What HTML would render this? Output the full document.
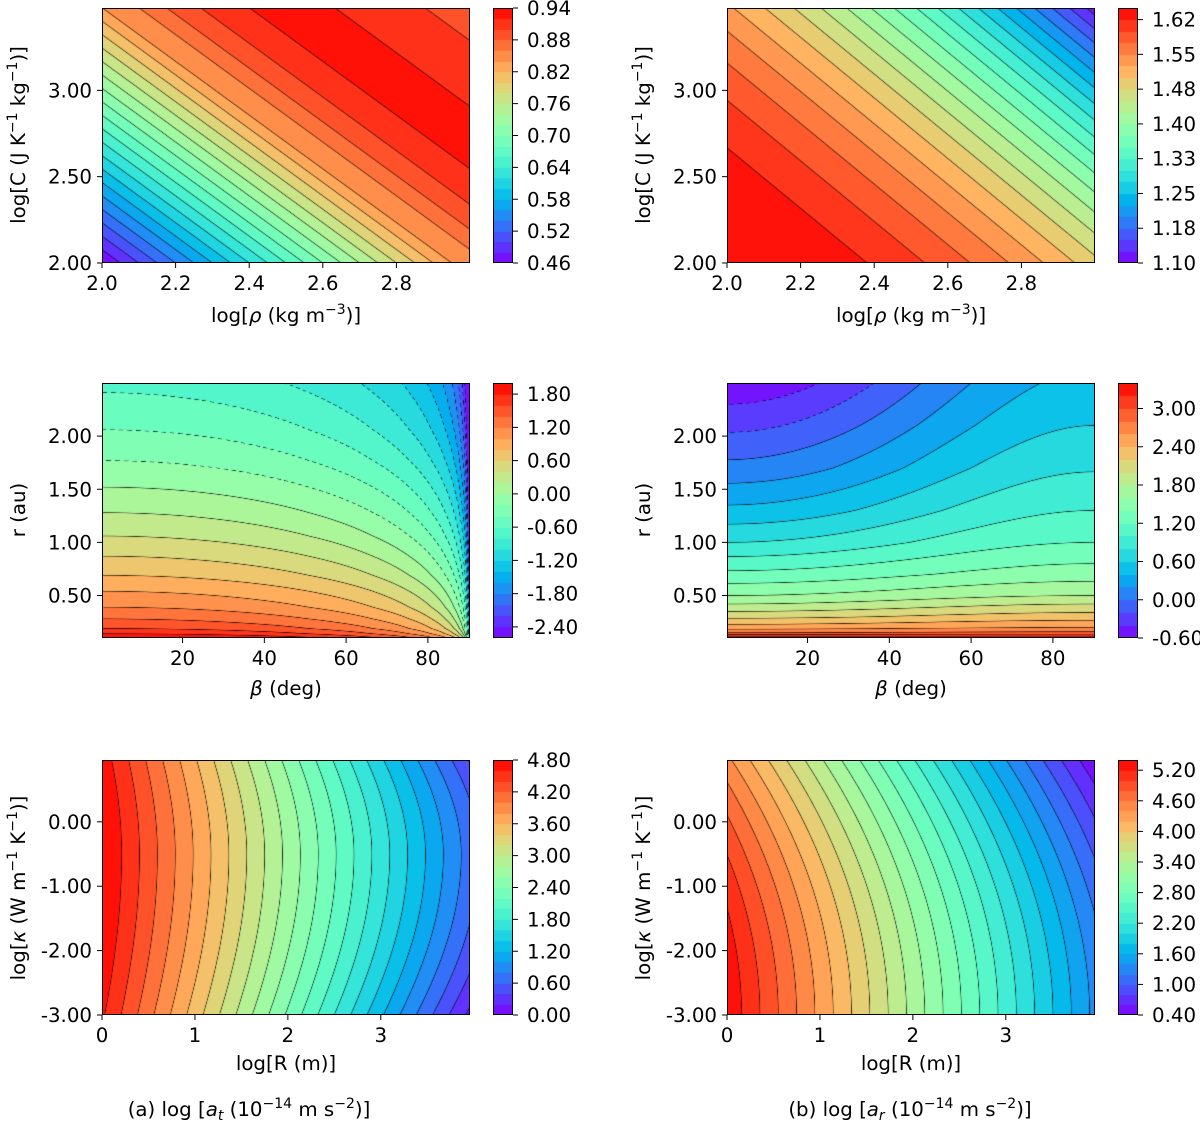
<!DOCTYPE html>
<html><head><meta charset="utf-8">
<style>
body{margin:0;background:#fff}
#root{position:relative;width:1200px;height:1123px;overflow:hidden;background:#fff}
canvas{position:absolute}
svg{position:absolute;left:0;top:0}
text{font-family:"DejaVu Sans","Liberation Sans",sans-serif;fill:#000}
</style></head>
<body>
<div id="root">
<svg id="svg" width="1200" height="1123"></svg>
</div>
<script>
// ---- data arrays ----
const A1_S=[0,0.38,0.42,0.45,0.487,0.54,0.587,0.633,0.78];
const A1_Z=[0.46,0.84,0.86,0.88,0.90,0.92,0.932,0.92,0.89];
const A1_COEF=[0.4,0.257];
const B1_COEF=[1,0.57];
const B1_PARAM=[1.652,0.54,1.9];
const A2_R=[0.1,0.14,0.19,0.28,0.39,0.54,0.69,0.87,1.06,1.28,1.52,1.77,2.06,2.41,2.5];
const A2_Z=[2.05,1.8,1.6,1.4,1.2,1.0,0.8,0.6,0.4,0.2,0.0,-0.2,-0.4,-0.6,-0.65];
const B2_R=[0.1,0.15,0.2,0.3,0.4,0.5,0.7,1.0,1.3,1.7,2.1,2.5];
const B2_LEFT=[3.4,2.8,2.5,2.15,1.85,1.6,1.25,0.8,0.45,0.06,-0.25,-0.55];
const B2_RIGHT=[3.4,2.85,2.6,2.3,2.05,1.8,1.5,1.2,1.0,0.78,0.6,0.45];
const A3_PARAM=[4.82,1.04,-0.5,0.05,0.03,2.0];
const B3_PARAM=[5.36,1.015,-3,0.058];
const TICKS_X1=[2.0,2.2,2.4,2.6,2.8];
const TICKS_Y1=[2.0,2.5,3.0];
const TICKS_X2=[20,40,60,80];
const TICKS_Y2=[0.5,1.0,1.5,2.0];
const TICKS_X3=[0,1,2,3];
const TICKS_Y3=[0,-1,-2,-3];
const CB_A1=[0.46,0.52,0.58,0.64,0.70,0.76,0.82,0.88,0.94];
const CB_B1=[1.10,1.175,1.25,1.325,1.40,1.475,1.55,1.625];
const CB_B1_LABELS=["1.10","1.18","1.25","1.33","1.40","1.48","1.55","1.62"];
const CB_A2=[-2.4,-1.8,-1.2,-0.6,0,0.6,1.2,1.8];
const CB_B2=[-0.6,0,0.6,1.2,1.8,2.4,3.0];
const CB_A3=[0,0.6,1.2,1.8,2.4,3.0,3.6,4.2,4.8];
const CB_B3=[0.4,1.0,1.6,2.2,2.8,3.4,4.0,4.6,5.2];

const FS=19.8;
function interp(xs,ys,x){
  if(x<=xs[0])return ys[0];
  for(let i=1;i<xs.length;i++){ if(x<=xs[i]){const t=(x-xs[i-1])/(xs[i]-xs[i-1]);return ys[i-1]+t*(ys[i]-ys[i-1]);} }
  return ys[ys.length-1];
}
const D2R=Math.PI/180;
const fA1=(x,y)=>interp(A1_S,A1_Z,A1_COEF[0]*(x-2)+A1_COEF[1]*(y-2));
const fB1=(x,y)=>{const smax=B1_COEF[0]*1+B1_COEF[1]*1.477;const s=(B1_COEF[0]*(x-2)+B1_COEF[1]*(y-2))/smax;return B1_PARAM[0]-B1_PARAM[1]*Math.pow(Math.max(s,0),B1_PARAM[2]);};
const fA2=(b,r)=>interp(A2_R,A2_Z,r)+Math.log10(Math.max(Math.cos(Math.min(b,90)*D2R),0.0004));
const fB2=(b,r)=>{const w=Math.pow(Math.sin(Math.min(b,90)*D2R),2);return (1-w)*interp(B2_R,B2_LEFT,r)+w*interp(B2_R,B2_RIGHT,r);};
const fA3=(x,y)=>{const d=y-A3_PARAM[2];const c=d>0?A3_PARAM[3]:A3_PARAM[4];return A3_PARAM[0]-A3_PARAM[1]*x-c*d*d*(1+A3_PARAM[5]*x/4);};
const fB3=(x,y)=>{const d=y-B3_PARAM[2];return B3_PARAM[0]-B3_PARAM[1]*x-B3_PARAM[3]*d*d;};

function rainbow(t){t=Math.max(0,Math.min(1,t));return [Math.min(1,Math.abs(2*t-0.5))*255,Math.sin(Math.PI*t)*255,Math.cos(Math.PI*t/2)*255];}

const panels=[
 {id:'a1',L:102,T:8,f:fA1,xd:[2,3],yd:[2,3.477],lmin:0.46,step:0.02,n:24,tx:TICKS_X1,ty:TICKS_Y1,fx:v=>v.toFixed(1),fy:v=>v.toFixed(2),cb:CB_A1,cbl:null,dash:0},
 {id:'b1',L:727,T:8,f:fB1,xd:[2,3],yd:[2,3.477],lmin:1.10,step:0.025,n:22,tx:TICKS_X1,ty:TICKS_Y1,fx:v=>v.toFixed(1),fy:v=>v.toFixed(2),cb:CB_B1,cbl:CB_B1_LABELS,dash:0},
 {id:'a2',L:102,T:383,f:fA2,xd:[0.3,90.3],yd:[0.1,2.5],lmin:-2.6,step:0.2,n:23,tx:TICKS_X2,ty:TICKS_Y2,fx:v=>String(v),fy:v=>v.toFixed(2),cb:CB_A2,cbl:null,dash:1},
 {id:'b2',L:727,T:383,f:fB2,xd:[0.3,90.3],yd:[0.1,2.5],lmin:-0.6,step:0.2,n:20,tx:TICKS_X2,ty:TICKS_Y2,fx:v=>String(v),fy:v=>v.toFixed(2),cb:CB_B2,cbl:null,dash:-1},
 {id:'a3',L:102,T:760,f:fA3,xd:[0,3.96],yd:[-3,0.96],lmin:0,step:0.2,n:24,tx:TICKS_X3,ty:TICKS_Y3,fx:v=>String(v),fy:v=>v.toFixed(2),cb:CB_A3,cbl:null,dash:0},
 {id:'b3',L:727,T:760,f:fB3,xd:[0,3.96],yd:[-3,0.96],lmin:0.4,step:0.2,n:25,tx:TICKS_X3,ty:TICKS_Y3,fx:v=>String(v),fy:v=>v.toFixed(2),cb:CB_B3,cbl:null,dash:0}
];
const W=368,H=255,CBW=20;
const root=document.getElementById('root');
const svg=document.getElementById('svg');
const NS='http://www.w3.org/2000/svg';
function el(tag,attrs,parent){const e=document.createElementNS(NS,tag);for(const k in attrs)e.setAttribute(k,attrs[k]);(parent||svg).appendChild(e);return e;}

panels.forEach(p=>{
  const lmax=p.lmin+p.step*p.n;
  const cv=document.createElement('canvas');cv.width=W;cv.height=H;
  cv.style.left=p.L+'px';cv.style.top=p.T+'px';
  
  
  root.insertBefore(cv,svg);
  const ctx=cv.getContext('2d');const img=ctx.createImageData(W,H);
  const GW=W+2,GH=H+2,Z=new Float64Array(GW*GH);
  for(let j=0;j<GH;j++)for(let i=0;i<GW;i++){
    const xv=p.xd[0]+(i-0.5)/W*(p.xd[1]-p.xd[0]);
    const yv=p.yd[1]-(j-0.5)/H*(p.yd[1]-p.yd[0]);
    Z[j*GW+i]=p.f(xv,yv);
  }
  for(let py=0;py<H;py++)for(let px=0;px<W;px++){
    const gi=(py+1)*GW+px+1,z=Z[gi];
    let k=Math.floor((z-p.lmin)/p.step);k=Math.max(0,Math.min(p.n-1,k));
    let c=rainbow((k+0.5)/p.n);
    const gx=(Z[gi+1]-Z[gi-1])/2,gy=(Z[gi+GW]-Z[gi-GW])/2;
    const g=Math.hypot(gx,gy)+1e-9;
    const li=Math.round((z-p.lmin)/p.step);
    const Lv=p.lmin+li*p.step;
    if(li>0&&li<p.n){
      const d=Math.abs(z-Lv)/g;
      let a=Math.max(0,Math.min(1,1-d/0.65))*0.85;
      if(p.dash&&Lv<-1e-9){const t=p.dash>0?(px+py):(px-py+1000);if((t%9)>=5)a=0;}
      c=[c[0]*(1-a),c[1]*(1-a),c[2]*(1-a)];
    }
    const o=(py*W+px)*4;img.data[o]=c[0];img.data[o+1]=c[1];img.data[o+2]=c[2];img.data[o+3]=255;
  }
  ctx.putImageData(img,0,0);
  const cbx=p.L+W+23;
  const cb=document.createElement('canvas');cb.width=CBW;cb.height=H;
  cb.style.left=cbx+'px';cb.style.top=p.T+'px';
  
  
  root.insertBefore(cb,svg);
  const cx=cb.getContext('2d');
  for(let k=0;k<p.n;k++){
    const c=rainbow((k+0.5)/p.n);
    const y0=H-(k+1)/p.n*H,y1=H-k/p.n*H;
    cx.fillStyle=`rgb(${c[0]|0},${c[1]|0},${c[2]|0})`;
    cx.fillRect(0,Math.floor(y0),CBW,Math.ceil(y1)-Math.floor(y0));
  }
  const fr=el('rect',{x:p.L+0.5,y:p.T+0.5,width:W-1,height:H-1,fill:'none',stroke:'#000','stroke-width':1});
  
  const cf=el('rect',{x:cbx+0.5,y:p.T+0.5,width:CBW-1,height:H-1,fill:'none',stroke:'#000','stroke-width':1});
  
  const sx=v=>p.L+(v-p.xd[0])/(p.xd[1]-p.xd[0])*W;
  const sy=v=>p.T+H-(v-p.yd[0])/(p.yd[1]-p.yd[0])*H;
  p.tx.forEach(v=>{
    const x=sx(v);
    el('line',{x1:x,x2:x,y1:p.T+H,y2:p.T+H+5,stroke:'#000','stroke-width':1});
    const t=el('text',{x:x,y:p.T+H+27,'font-size':FS,'text-anchor':'middle'});t.textContent=p.fx(v);
    
  });
  p.ty.forEach(v=>{
    const y=sy(v);
    el('line',{x1:p.L-5,x2:p.L,y1:y,y2:y,stroke:'#000','stroke-width':1});
    const t=el('text',{x:p.L-10,y:y+7,'font-size':FS,'text-anchor':'end'});t.textContent=p.fy(v);
    
  });
  p.cb.forEach((v,i)=>{
    const y=p.T+H-(v-p.lmin)/(lmax-p.lmin)*H;
    el('line',{x1:cbx+CBW,x2:cbx+CBW+5,y1:y,y2:y,stroke:'#000','stroke-width':1});
    const t=el('text',{x:cbx+CBW+14,y:y+7,'font-size':FS});
    t.textContent=p.cbl?p.cbl[i]:v.toFixed(2);
    
  });
});

function richText(x,y,parts,attrs,name){
  const t=el('text',Object.assign({x:x,y:y,'font-size':FS,'text-anchor':'middle'},attrs||{}));
  
  parts.forEach(pt=>{
    const s=el('tspan',{},t);
    if(pt.sup){s.setAttribute('font-size',14);s.setAttribute('dy',-8);}
    if(pt.sub){s.setAttribute('font-size',14);s.setAttribute('dy',4);}
    if(pt.back){s.setAttribute('dy',pt.back);}
    if(pt.it)s.setAttribute('font-style','italic');
    s.textContent=pt.t;
  });
  return t;
}
[102,727].forEach((L,ci)=>{
  const cxm=L+W/2;
  richText(cxm,322,[{t:'log['},{t:'ρ',it:1},{t:' (kg m'},{t:'−3',sup:1},{t:')]',back:8}],null,'x-axis-title-density');
  richText(cxm,695,[{t:'β',it:1},{t:' (deg)'}],null,'x-axis-title-beta');
  richText(cxm,1070,[{t:'log[R (m)]'}],null,'x-axis-title-radius');
  const yx=L-77;
  richText(0,0,[{t:'log[C (J K'},{t:'−1',sup:1},{t:' kg',back:8},{t:'−1',sup:1},{t:')]',back:8}],{transform:`translate(${yx},135) rotate(-90)`},'y-axis-title-heat-capacity');
  richText(0,0,[{t:'r (au)'}],{transform:`translate(${yx},510) rotate(-90)`},'y-axis-title-distance');
  richText(0,0,[{t:'log['},{t:'κ',it:1},{t:' (W m'},{t:'−1',sup:1},{t:' K',back:8},{t:'−1',sup:1},{t:')]',back:8}],{transform:`translate(${yx},888) rotate(-90)`},'y-axis-title-conductivity');
});
richText(249,1116,[{t:'(a) log ['},{t:'a',it:1},{t:'t',it:1,sub:1},{t:' (10',back:-4},{t:'−14',sup:1},{t:' m s',back:8},{t:'−2',sup:1},{t:')]',back:8}],null,'caption-a');
richText(910,1116,[{t:'(b) log ['},{t:'a',it:1},{t:'r',it:1,sub:1},{t:' (10',back:-4},{t:'−14',sup:1},{t:' m s',back:8},{t:'−2',sup:1},{t:')]',back:8}],null,'caption-b');
</script>
</body></html>
